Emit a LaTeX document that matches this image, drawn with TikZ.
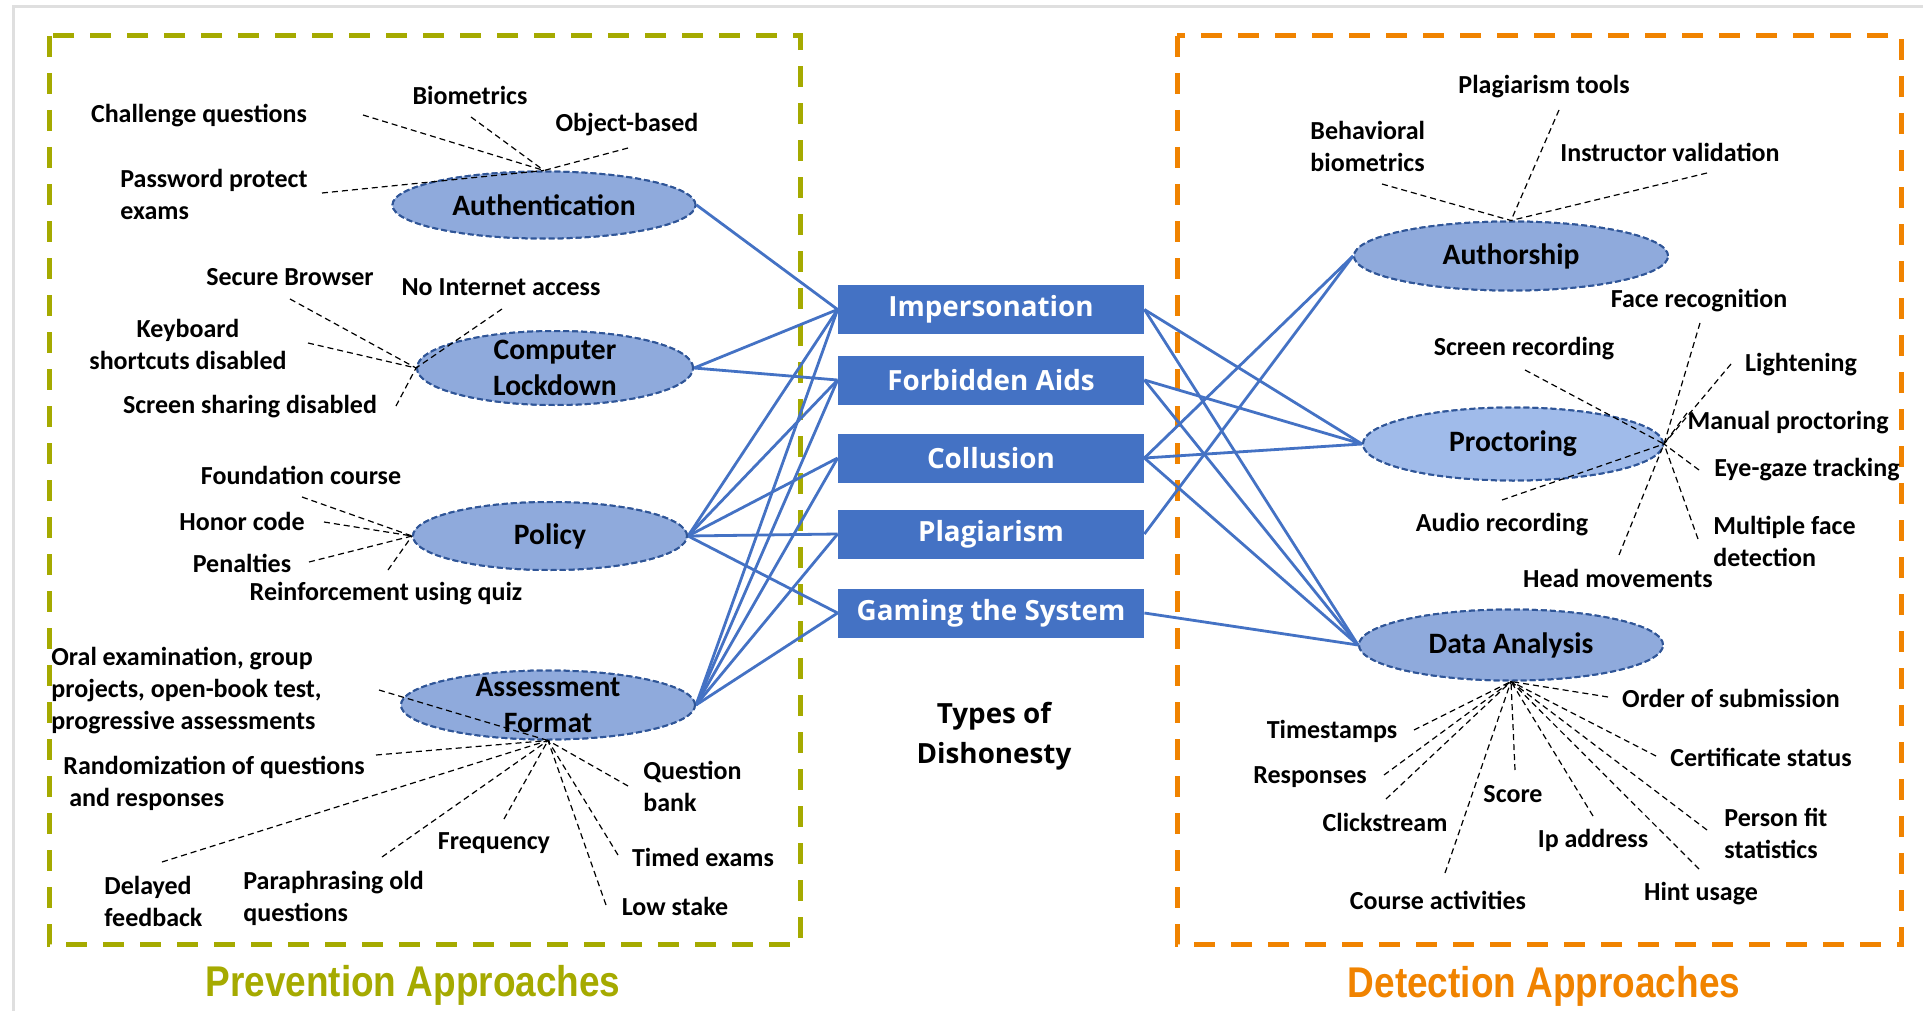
\documentclass[tikz,border=0pt]{standalone}
\usepackage{fontspec}
\setmainfont{Carlito}
\newfontfamily\boxfont{Open Sans}
\newfontfamily\titlefont[FakeStretch=0.86]{Liberation Sans}
\usetikzlibrary{shapes.geometric}
\definecolor{boxblue}{HTML}{4472C4}
\definecolor{ovalfill}{HTML}{8FAADC}
\definecolor{ovallight}{HTML}{A0BBEA}
\definecolor{ovaledge}{HTML}{2F5597}
\definecolor{prevgreen}{HTML}{A5AA00}
\definecolor{detorange}{HTML}{F08300}
\begin{document}
\begin{tikzpicture}[x=0.5pt,y=-0.5pt,
    kind/.style={fill=boxblue,text=white,minimum width=153pt,minimum height=24.5pt,inner sep=0pt,font=\boxfont\bfseries\fontsize{13.9}{17}\selectfont},
    oval/.style={ellipse,fill=ovalfill,draw=ovaledge,line width=1pt,dash pattern=on 3pt off 1.5pt,inner sep=0pt},
    ovaltext/.style={font=\bfseries\fontsize{14.8}{17.8}\selectfont,align=center},
    lbl/.style={font=\bfseries\fontsize{13}{16}\selectfont,align=center,inner sep=0pt},
    lead/.style={black,densely dashed,line width=0.6pt},
    link/.style={boxblue,line width=1.4pt},
    frame/.style={line width=2.5pt,dash pattern=on 10.5pt off 8pt}]
  \useasboundingbox (0,0) rectangle (1923,1011);
  \draw[gray!25,line width=1.5pt] (13,1011) -- (13,7) -- (1923,7);
  % approach frames
  \draw[frame,prevgreen] (49,36) rectangle (800,944);
  \draw[frame,detorange] (1177,36) rectangle (1901,944);
  \node[font=\titlefont\bfseries\fontsize{21.5}{25}\selectfont,text=prevgreen] (prev) at (413,985) {Prevention Approaches};
  \node[font=\titlefont\bfseries\fontsize{21.5}{25}\selectfont,text=detorange] (det) at (1544,986) {Detection Approaches};

  % types of dishonesty
  \node[kind] (imp) at (991,309.5) {Impersonation};
  \node[kind] (fa) at (991,380) {Forbidden Aids};
  \node[kind] (col) at (991,458) {Collusion};
  \node[kind] (pla) at (991,534) {Plagiarism};
  \node[kind] (gam) at (991,613) {Gaming the System};
  \node[font=\boxfont\bfseries\fontsize{13.9}{20.3}\selectfont,align=center] (types) at (994,736) {Types of\\Dishonesty};

  % approaches (ellipses placed first as coordinates for the links)
  \path (544,205) node[oval,minimum width=151.5pt,minimum height=33.5pt] (auth) {}
        (555,368) node[oval,minimum width=138pt,minimum height=37pt] (comp) {}
        (550,536) node[oval,minimum width=137pt,minimum height=34pt] (pol) {}
        (548,705) node[oval,minimum width=147pt,minimum height=34.5pt] (asf) {}
        (1511,256) node[oval,minimum width=157pt,minimum height=34.5pt] (aut) {}
        (1513,444) node[oval,minimum width=150pt,minimum height=36.5pt] (proc) {}
        (1511,645) node[oval,minimum width=152pt,minimum height=35.5pt] (data) {};

  % links
  \draw[link] (auth.east) -- (imp.west);
  \draw[link] (comp.east) -- (imp.west);
  \draw[link] (comp.east) -- (fa.west);
  \draw[link] (pol.east) -- (imp.west);
  \draw[link] (pol.east) -- (fa.west);
  \draw[link] (pol.east) -- (col.west);
  \draw[link] (pol.east) -- (pla.west);
  \draw[link] (pol.east) -- (gam.west);
  \draw[link] (asf.east) -- (imp.west);
  \draw[link] (asf.east) -- (fa.west);
  \draw[link] (asf.east) -- (col.west);
  \draw[link] (asf.east) -- (pla.west);
  \draw[link] (asf.east) -- (gam.west);
  \draw[link] (imp.east) -- (proc.west);
  \draw[link] (imp.east) -- (data.west);
  \draw[link] (fa.east) -- (proc.west);
  \draw[link] (fa.east) -- (data.west);
  \draw[link] (col.east) -- (aut.west);
  \draw[link] (col.east) -- (proc.west);
  \draw[link] (col.east) -- (data.west);
  \draw[link] (pla.east) -- (aut.west);
  \draw[link] (gam.east) -- (data.west);

  % ellipses on top of the links
  \node[oval,minimum width=151.5pt,minimum height=33.5pt,label={[ovaltext]center:Authentication}] at (auth) {};
  \node[oval,minimum width=138pt,minimum height=37pt,label={[ovaltext]center:Computer\\Lockdown}] at (comp) {};
  \node[oval,minimum width=137pt,minimum height=34pt,label={[ovaltext]center:Policy}] at (pol) {};
  \node[oval,minimum width=147pt,minimum height=34.5pt,label={[ovaltext]center:Assessment\\Format}] at (asf) {};
  \node[oval,minimum width=157pt,minimum height=34.5pt,label={[ovaltext]center:Authorship}] at (aut) {};
  \node[oval,fill=ovallight,minimum width=150pt,minimum height=36.5pt,label={[ovaltext]center:Proctoring}] at (proc) {};
  \node[oval,minimum width=152pt,minimum height=35.5pt,label={[ovaltext]center:Data Analysis}] at (data) {};

  % authentication
  \node[lbl] (cq) at (199,116) {Challenge questions};
  \node[lbl] (bio) at (470,95) {Biometrics};
  \node[lbl] (obj) at (627,125) {Object-based};
  \node[lbl,align=left,anchor=west] (pwd) at (120,194) {Password protect\\exams};
  \coordinate (cqe) at (363,115);
  \coordinate (bioe) at (471,117);
  \coordinate (obje) at (628,148);
  \coordinate (pwde) at (322,193);
  \foreach \e in {cqe,bioe,obje,pwde} \draw[lead] (\e) -- (auth.north);

  % computer lockdown
  \node[lbl] (sb) at (290,277) {Secure Browser};
  \node[lbl] (nia) at (501,287) {No Internet access};
  \node[lbl] (kb) at (188,344) {Keyboard\\shortcuts disabled};
  \node[lbl] (ssd) at (250,407) {Screen sharing disabled};
  \coordinate (sbe) at (290,299);
  \coordinate (niae) at (502,309);
  \coordinate (kbe) at (308,343);
  \coordinate (ssde) at (396,406);
  \foreach \e in {sbe,niae,kbe,ssde} \draw[lead] (\e) -- (comp.west);

  % policy
  \node[lbl] (fc) at (301,475) {Foundation course};
  \node[lbl] (hc) at (242,521) {Honor code};
  \node[lbl] (pen) at (242,563) {Penalties};
  \node[lbl] (rq) at (386,594) {Reinforcement using quiz};
  \coordinate (fce) at (302,497);
  \coordinate (hce) at (324,522);
  \coordinate (pene) at (309,562);
  \coordinate (rqe) at (388,570);
  \foreach \e in {fce,hce,pene,rqe} \draw[lead] (\e) -- (pol.west);

  % assessment format
  \node[lbl,align=left,anchor=west] (oral) at (51,691) {Oral examination, group\\projects, open-book test,\\progressive assessments};
  \node[lbl,align=left,anchor=west] (rnd) at (63,783) {Randomization of questions\\\hspace*{3pt}and responses};
  \node[lbl,align=left,anchor=west] (qb) at (643,786) {Question\\bank};
  \node[lbl] (freq) at (494,843) {Frequency};
  \node[lbl] (timed) at (703,857) {Timed exams};
  \node[lbl] (low) at (675,906) {Low stake};
  \node[lbl,align=left,anchor=west] (del) at (104,901) {Delayed\\feedback};
  \node[lbl,align=left,anchor=west] (para) at (243,898) {Paraphrasing old\\questions};
  \coordinate (orale) at (379,690);
  \coordinate (rnde) at (376,755);
  \coordinate (qbe) at (628,786);
  \coordinate (freqe) at (504,819);
  \coordinate (timede) at (618,855);
  \coordinate (lowe) at (606,905);
  \coordinate (dele) at (162,862);
  \coordinate (parae) at (382,857);
  \foreach \e in {orale,rnde,qbe,freqe,timede,lowe,dele,parae} \draw[lead] (\e) -- (asf.south);

  % authorship
  \node[lbl] (pt) at (1544,87) {Plagiarism tools};
  \node[lbl,align=left,anchor=west] (bb) at (1310,146) {Behavioral\\biometrics};
  \node[lbl] (iv) at (1670,152) {Instructor validation};
  \coordinate (pte) at (1559,110);
  \coordinate (bbe) at (1382,184);
  \coordinate (ive) at (1707,173);
  \foreach \e in {pte,bbe,ive} \draw[lead] (\e) -- (aut.north);

  % proctoring
  \node[lbl] (fr) at (1699,301) {Face recognition};
  \node[lbl] (sr) at (1524,349) {Screen recording};
  \node[lbl] (li) at (1801,365) {Lightening};
  \node[lbl] (mp) at (1788,423) {Manual proctoring};
  \node[lbl] (eg) at (1807,470) {Eye-gaze tracking};
  \node[lbl,align=left,anchor=west] (mf) at (1713,541) {Multiple face\\detection};
  \node[lbl] (ar) at (1502,525) {Audio recording};
  \node[lbl] (hm) at (1618,578) {Head movements};
  \coordinate (fre) at (1700,323);
  \coordinate (sre) at (1525,370);
  \coordinate (lie) at (1731,364);
  \coordinate (mpe) at (1687,413);
  \coordinate (ege) at (1699,470);
  \coordinate (mfe) at (1698,539);
  \coordinate (are) at (1502,500);
  \coordinate (hme) at (1619,555);
  \foreach \e in {fre,sre,lie,mpe,ege,mfe,are,hme} \draw[lead] (\e) -- (proc.east);

  % data analysis
  \node[lbl] (os) at (1731,698) {Order of submission};
  \node[lbl] (ts) at (1332,731) {Timestamps};
  \node[lbl] (cs) at (1761,757) {Certificate status};
  \node[lbl] (rs) at (1310,777) {Responses};
  \node[lbl] (sc) at (1513,794) {Score};
  \node[lbl] (cl) at (1385,822) {Clickstream};
  \node[lbl,align=left,anchor=west] (pf) at (1724,833) {Person fit\\statistics};
  \node[lbl] (ip) at (1593,840) {Ip address};
  \node[lbl] (ca) at (1438,900) {Course activities};
  \node[lbl] (hu) at (1701,894) {Hint usage};
  \coordinate (ose) at (1608,697);
  \coordinate (tse) at (1414,730);
  \coordinate (cse) at (1656,756);
  \coordinate (rse) at (1384,775);
  \coordinate (sce) at (1515,770);
  \coordinate (cle) at (1386,799);
  \coordinate (pfe) at (1707,830);
  \coordinate (ipe) at (1593,816);
  \coordinate (cae) at (1445,873);
  \coordinate (hue) at (1699,869);
  \foreach \e in {ose,tse,cse,rse,sce,cle,pfe,ipe,cae,hue} \draw[lead] (\e) -- (data.south);
\end{tikzpicture}
\end{document}
